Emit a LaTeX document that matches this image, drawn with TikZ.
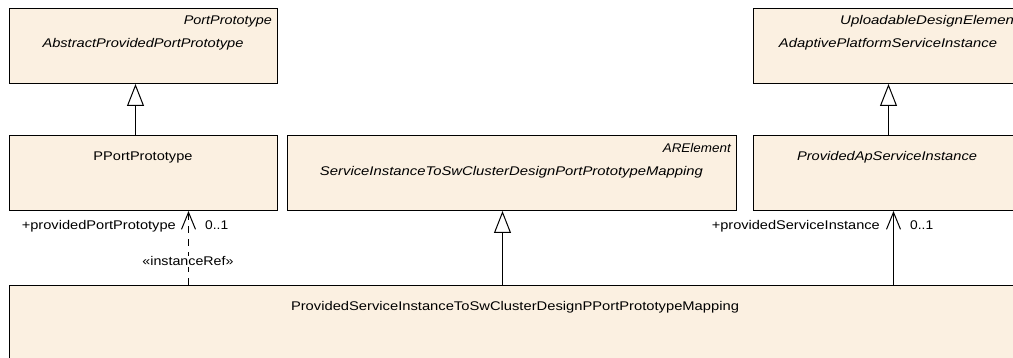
\documentclass[tikz,border=0pt]{standalone}
\usepackage{fontspec}
\setmainfont{Liberation Sans}
\usepackage{graphicx}
\usetikzlibrary{arrows.meta}
\definecolor{clsfill}{RGB}{251,240,225}
\newcommand{\fw}[2]{\resizebox{#1pt}{\height}{#2}}
\begin{document}
\begin{tikzpicture}[x=1pt,y=-1pt,
  cls/.style={draw=black, line width=1pt, fill=clsfill, rectangle, inner sep=0pt, anchor=north west},
  txt/.style={inner sep=0pt, font=\fontsize{12.6}{14}\selectfont},
  gen/.style={draw=black, line width=1pt, -{Triangle[open, length=22pt, width=17pt, line width=1pt]}},
  assoc/.style={draw=black, line width=1pt, -{Straight Barb[length=17pt, width=14pt, line width=1pt]}},
  dashref/.style={assoc, dash pattern=on 7pt off 6pt}
]
\useasboundingbox (0,0) rectangle (1013,358);
% boxes
\node[cls, minimum width=268pt, minimum height=75pt] (abs) at (9,8) {};
\node[cls, minimum width=270pt, minimum height=75pt] (apsi) at (753,8) {};
\node[cls, minimum width=268pt, minimum height=75pt] (pport) at (9,135) {};
\node[cls, minimum width=449pt, minimum height=75pt] (map) at (287,135) {};
\node[cls, minimum width=270pt, minimum height=75pt] (prov) at (753,135) {};
\node[cls, minimum width=1014pt, minimum height=100pt] (bottom) at (9,285) {};
% texts
\node[txt, anchor=base east] (t1) at (272,25) {\fw{88}{\itshape PortPrototype}};
\node[txt, anchor=base] (t2) at (143,48) {\fw{201}{\itshape AbstractProvidedPortPrototype}};
\node[txt, anchor=base west] (t3) at (840,25) {\fw{178}{\itshape UploadableDesignElement}};
\node[txt, anchor=base] (t4) at (888,48) {\fw{218}{\itshape AdaptivePlatformServiceInstance}};
\node[txt, anchor=base] (t5) at (143,161) {\fw{99}{PPortPrototype}};
\node[txt, anchor=base east] (t6) at (731,153) {\fw{68}{\itshape ARElement}};
\node[txt, anchor=base] (t7) at (511.5,176) {\fw{383}{\itshape ServiceInstanceToSwClusterDesignPortPrototypeMapping}};
\node[txt, anchor=base] (t8) at (887,161) {\fw{180}{\itshape ProvidedApServiceInstance}};
\node[txt, anchor=base] (t9) at (515,311) {\fw{448}{ProvidedServiceInstanceToSwClusterDesignPPortPrototypeMapping}};
% connectors
\coordinate (g1) at ([xshift=-8pt]pport.north);
\coordinate (g1t) at ([xshift=-8pt]abs.south);
\draw[gen] (g1) -- (g1t);
\draw[gen] (prov.north) -- (apsi.south);
\coordinate (m3) at ([xshift=-9.5pt]map.south);
\draw[gen] (bottom.north -| m3) -- (m3);
\coordinate (a1) at ([xshift=45pt]pport.south);
\draw[dashref] (bottom.north -| a1) -- (a1);
\coordinate (a2) at ([xshift=5pt]prov.south);
\draw[assoc] (bottom.north -| a2) -- (a2);
% labels
\node[txt, anchor=base east] (l1) at (176,230) {\fw{154}{+providedPortPrototype}};
\node[txt, anchor=base west] (l2) at (205,230) {\fw{23}{0..1}};
\node[txt, anchor=base, fill=white, inner sep=1pt] (l3) at (188,266) {\fw{91}{«instanceRef»}};
\node[txt, anchor=base east] (l4) at (880,230) {\fw{168}{+providedServiceInstance}};
\node[txt, anchor=base west] (l5) at (910,230) {\fw{23}{0..1}};
\end{tikzpicture}
\end{document}
